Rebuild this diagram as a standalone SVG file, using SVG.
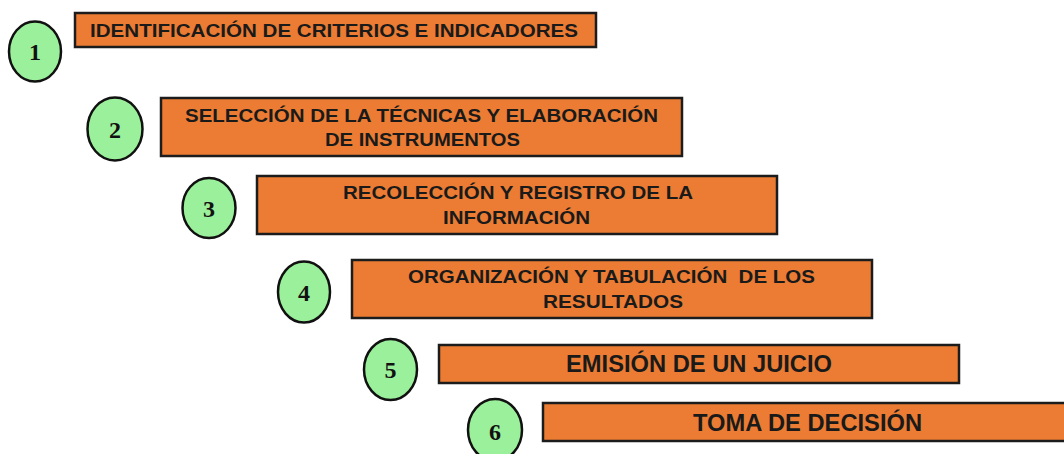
<svg xmlns="http://www.w3.org/2000/svg" width="1064" height="454" viewBox="0 0 1064 454">
<style>
.box{fill:#EC7C33;stroke:#1c1c1c;stroke-width:2.5}
.num{fill:#9BF09B;stroke:#111;stroke-width:2.5}
.t{font-family:"Liberation Sans",Arial,sans-serif;font-weight:bold;font-size:18.5px;fill:#1a1a1a;text-anchor:middle}
.tb{font-size:23px}
.n{font-family:"Liberation Serif","Times New Roman",serif;font-weight:bold;font-size:24px;fill:#111;text-anchor:middle}
</style>
<rect width="1064" height="454" fill="#ffffff"/>
<g id="node1">
<ellipse class="num" cx="35" cy="51.5" rx="26" ry="30"/>
<text class="n" x="35" y="60">1</text>
<rect class="box" x="75" y="13" width="521" height="34"/>
<text class="t" x="334" y="37" textLength="488" lengthAdjust="spacingAndGlyphs">IDENTIFICACIÓN DE CRITERIOS E INDICADORES</text>
</g>
<g id="node2">
<ellipse class="num" cx="115" cy="129" rx="27.5" ry="31.5"/>
<text class="n" x="115" y="138">2</text>
<rect class="box" x="161" y="98" width="521" height="58"/>
<text class="t" x="421.5" y="122" textLength="473" lengthAdjust="spacingAndGlyphs">SELECCIÓN DE LA TÉCNICAS Y ELABORACIÓN</text>
<text class="t" x="422.5" y="146" textLength="195" lengthAdjust="spacingAndGlyphs">DE INSTRUMENTOS</text>
</g>
<g id="node3">
<ellipse class="num" cx="209" cy="208" rx="26.5" ry="30"/>
<text class="n" x="209" y="217">3</text>
<rect class="box" x="257" y="176" width="520" height="58"/>
<text class="t" x="518" y="199" textLength="350" lengthAdjust="spacingAndGlyphs">RECOLECCIÓN Y REGISTRO DE LA</text>
<text class="t" x="516.5" y="224" textLength="147" lengthAdjust="spacingAndGlyphs">INFORMACIÓN</text>
</g>
<g id="node4">
<ellipse class="num" cx="304" cy="292" rx="26" ry="30.5"/>
<text class="n" x="304" y="301">4</text>
<rect class="box" x="352" y="260" width="520" height="58"/>
<text class="t" x="611.5" y="283" xml:space="preserve" textLength="407" lengthAdjust="spacingAndGlyphs">ORGANIZACIÓN Y TABULACIÓN  DE LOS</text>
<text class="t" x="613" y="308" textLength="140" lengthAdjust="spacingAndGlyphs">RESULTADOS</text>
</g>
<g id="node5">
<ellipse class="num" cx="390.5" cy="369.5" rx="26.5" ry="30.5"/>
<text class="n" x="390.5" y="378">5</text>
<rect class="box" x="439" y="345" width="520" height="38"/>
<text class="t tb" x="699" y="372" textLength="266" lengthAdjust="spacingAndGlyphs">EMISIÓN DE UN JUICIO</text>
</g>
<g id="node6">
<ellipse class="num" cx="495" cy="430" rx="27" ry="31"/>
<text class="n" x="495" y="440">6</text>
<rect class="box" x="543" y="403" width="530" height="38"/>
<text class="t tb" x="807.5" y="431" textLength="229" lengthAdjust="spacingAndGlyphs">TOMA DE DECISIÓN</text>
</g>
<g id="connectors"></g>
</svg>
